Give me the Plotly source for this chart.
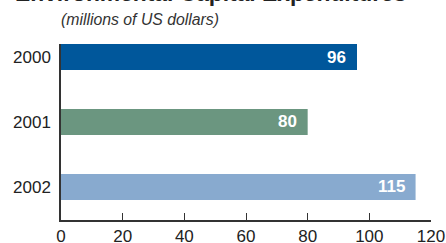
import plotly.graph_objects as go

years = ["2000", "2001", "2002"]
values = [96, 80, 115]
colors = ["#00579b", "#6b9680", "#88aacf"]
x_ticks = [0, 20, 40, 60, 80, 100, 120]

title = "Environmental Capital Expenditures"
subtitle = "(millions of US dollars)"

FONT = "Liberation Sans, Arial, Helvetica, sans-serif"

fig = go.Figure(go.Bar(
    x=values, y=years, orientation="h",
    marker=dict(color=colors, line=dict(width=0)),
    width=0.4,
))

annotations = []
for i, v in enumerate(values):
    annotations.append(dict(
        x=v, y=i, xref="x", yref="y", text=f"<b>{v}</b>",
        xanchor="right", yanchor="middle", xshift=-9, showarrow=False,
        font=dict(family=FONT, size=17, color="white"),
    ))
annotations.append(dict(
    x=0.403, y=1.205, xref="paper", yref="paper", text=f"<b>{title}</b>",
    xanchor="center", yanchor="bottom", showarrow=False,
    font=dict(family=FONT, size=22.8, color="#222222"),
))
annotations.append(dict(
    x=0, y=1.142, xref="paper", yref="paper", text=f"<i>{subtitle}</i>",
    xanchor="left", yanchor="middle", showarrow=False, xshift=-2,
    font=dict(family=FONT, size=15.8, color="#333333"),
))

fig.update_layout(
    width=446, height=243,
    margin=dict(l=61, r=15, t=44, b=23, autoexpand=False),
    paper_bgcolor="white", plot_bgcolor="white",
    showlegend=False,
    annotations=annotations,
    font=dict(family=FONT, color="#222222"),
    xaxis=dict(
        range=[0, 120], tickvals=x_ticks, ticks="inside", ticklen=7,
        tickwidth=1.2, tickcolor="#333333", automargin=False,
        showline=True, linecolor="#333333", linewidth=1.5,
        showgrid=False, zeroline=False,
        tickfont=dict(family=FONT, size=17, color="#222222"),
    ),
    yaxis=dict(
        autorange=False, range=[2.508, -0.2], type="category",
        showline=True, linecolor="#333333", linewidth=1.5, automargin=False,
        showgrid=False, zeroline=False, ticks="", ticklabelstandoff=5,
        tickfont=dict(family=FONT, size=17, color="#222222"),
    ),
)

fig.write_html(
    "out.html",
    config={"displayModeBar": False},
    post_script="document.body.style.margin='0';document.body.style.overflow='hidden';",
)
